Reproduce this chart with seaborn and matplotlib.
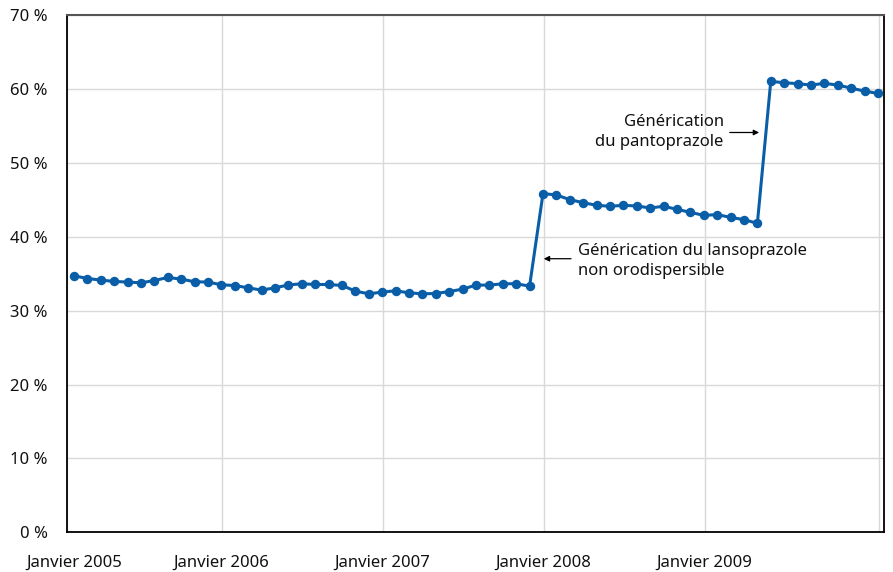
import numpy as np
import pandas as pd
import seaborn as sns
import matplotlib.pyplot as plt

# monthly share (%), Feb 2005 -> Feb 2010
share = [34.73, 34.36, 34.15, 33.96, 33.88, 33.78, 34.09, 34.50, 34.28, 33.92,
         33.88, 33.51, 33.41, 33.10, 32.79, 33.10, 33.49, 33.65, 33.55, 33.55,
         33.42, 32.65, 32.29, 32.52, 32.70, 32.42, 32.29, 32.33, 32.60, 32.92,
         33.47, 33.47, 33.65, 33.65, 33.33,
         45.86, 45.67, 45.04, 44.63, 44.27, 44.14, 44.27, 44.18, 43.91, 44.14,
         43.73, 43.32, 42.91, 43.01, 42.64, 42.33, 41.83,
         61.05, 60.87, 60.74, 60.55, 60.78, 60.55, 60.14, 59.73, 59.42]
month = list(range(len(share)))

year_labels = ["Janvier 2005", "Janvier 2006", "Janvier 2007", "Janvier 2008", "Janvier 2009"]
year_label_pos = [0, 11, 23, 35, 47]
year_grid_pos = [-0.5, 11.07, 23.08, 35.1, 47.09, 60.1]
y_ticks = [0, 10, 20, 30, 40, 50, 60, 70]

df = pd.DataFrame({"mois": month, "part": share})

sns.set_style("white")
plt.rcParams["font.family"] = ["Noto Sans", "DejaVu Sans"]

fig = plt.figure(figsize=(8.93, 5.72), dpi=100)
ax = fig.add_axes([0.0754, 0.0694, 0.9148, 0.9039])

sns.lineplot(data=df, x="mois", y="part", ax=ax, color="#0a5ea8", lw=2.2,
             marker="o", markersize=6.8, markeredgewidth=0, zorder=3)

ax.set_xlim(-0.5, 60.47)
ax.set_ylim(0, 70)

ax.set_yticks(y_ticks)
ax.set_yticklabels([f"{v} %" for v in y_ticks])
ax.set_xticks(year_grid_pos)
ax.set_xticklabels([])
ax.set_xticks(year_label_pos, minor=True)
ax.set_xticklabels(year_labels, minor=True)

ax.grid(True, which="major", color="#d9d9d9", lw=1.0, zorder=0)
ax.tick_params(axis="both", which="major", length=6, color="#d9d9d9", width=1.0,
               labelsize=12, colors="#d9d9d9", labelcolor="#111111")
ax.tick_params(axis="y", pad=8)
ax.tick_params(axis="x", which="minor", length=0, pad=16, labelsize=12,
               labelcolor="#111111")

for s in ["left", "bottom", "right"]:
    ax.spines[s].set_color("black")
    ax.spines[s].set_linewidth(1.3)
ax.spines["top"].set_color("#555555")
ax.spines["top"].set_linewidth(1.5)

ax.set_xlabel("")
ax.set_ylabel("")

ax.annotate("", xy=(34.85, 37.04), xytext=(37.3, 37.04),
            arrowprops=dict(arrowstyle="-|>", color="black", lw=0.9,
                            mutation_scale=8))
ax.text(37.6, 36.77, "Générication du lansoprazole\nnon orodispersible",
        ha="left", va="center", fontsize=12, color="#111111", linespacing=1.3)

ax.annotate("", xy=(51.34, 54.13), xytext=(48.73, 54.13),
            arrowprops=dict(arrowstyle="-|>", color="black", lw=0.9,
                            mutation_scale=8))
ax.text(48.5, 54.2, "Générication\ndu pantoprazole", ha="right", va="center",
        multialignment="right", fontsize=12, color="#111111", linespacing=1.3)

fig.savefig("out.png", dpi=100)
